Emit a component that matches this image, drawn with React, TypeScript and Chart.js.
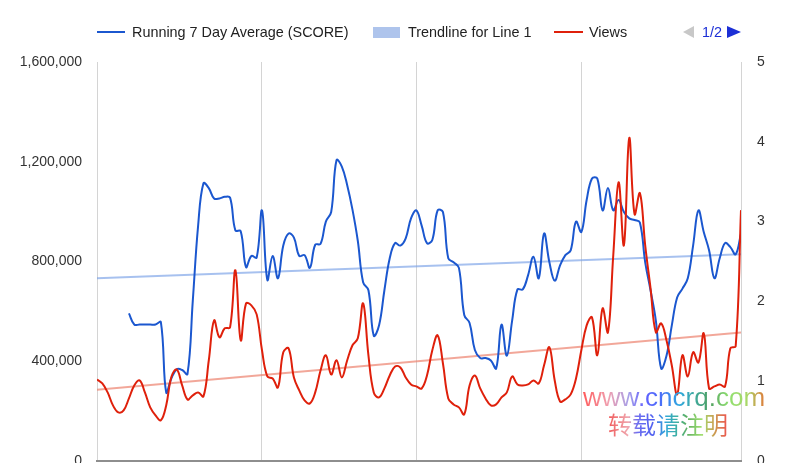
import { useEffect, useRef } from 'react';
import { Chart, registerables } from 'chart.js';

Chart.register(...registerables);

// Day index (0 = first day of the period); gridlines fall on month starts
const monthStartDays = [0, 31, 60, 91, 121];

// Views (left axis), one value per day starting at day 0
const viewsValues = [
  327000, 311000, 275000, 223000, 195000, 203000, 251000, 303000, 323000, 275000,
  215000, 183000, 163000, 223000, 339000, 367000, 303000, 247000, 263000, 275000,
  259000, 403000, 564000, 496000, 532000, 536000, 765000, 484000, 632000, 624000,
  588000, 444000, 339000, 331000, 295000, 436000, 452000, 335000, 283000, 243000,
  231000, 275000, 363000, 424000, 347000, 404000, 335000, 403000, 464000, 492000,
  632000, 424000, 275000, 255000, 291000, 343000, 379000, 375000, 335000, 307000,
  299000, 291000, 343000, 444000, 504000, 391000, 251000, 227000, 215000, 187000,
  303000, 343000, 291000, 251000, 223000, 227000, 255000, 275000, 339000, 307000,
  303000, 307000, 323000, 311000, 384000, 456000, 323000, 239000, 247000, 267000,
  331000, 444000, 544000, 576000, 424000, 612000, 516000, 825000, 1118000, 865000,
  1295000, 990000, 1074000, 865000, 693000, 516000, 552000, 484000, 383000, 267000,
  424000, 339000, 436000, 395000, 512000, 291000, 299000, 307000, 299000, 452000,
  460000, 1006000,
];

// Running 7 day average of SCORE (right axis), starts on day 6
const scoreStartDay = 6;
const scoreValues = [
  1.85, 1.71, 1.71, 1.71, 1.71, 1.71, 1.74, 0.86, 1.04, 1.15,
  1.14, 1.09, 2.01, 2.95, 3.48, 3.42, 3.29, 3.29, 3.31, 3.30,
  2.89, 2.88, 2.43, 2.57, 2.55, 3.14, 2.27, 2.57, 2.29, 2.70,
  2.85, 2.80, 2.57, 2.58, 2.42, 2.71, 2.72, 3.00, 3.12, 3.77,
  3.69, 3.46, 3.15, 2.76, 2.24, 2.14, 1.57, 1.70, 2.14, 2.54,
  2.73, 2.70, 2.79, 3.04, 3.14, 2.95, 2.73, 2.77, 3.14, 3.12,
  2.54, 2.49, 2.42, 1.83, 1.73, 1.39, 1.29, 1.29, 1.26, 1.16,
  1.71, 1.32, 1.76, 2.15, 2.15, 2.33, 2.56, 2.29, 2.85, 2.49,
  2.26, 2.45, 2.58, 2.64, 3.00, 2.87, 3.27, 3.54, 3.54, 3.14,
  3.42, 3.14, 3.27, 3.12, 3.04, 3.02, 2.99, 2.49, 2.14, 1.76,
  1.16, 1.32, 1.70, 2.05, 2.16, 2.29, 2.70, 3.14, 2.87, 2.64,
  2.29, 2.54, 2.73, 2.68, 2.59, 2.85,
];

// Trendlines (end points)
const trendDays = [0, 121];
const scoreTrend = [2.29, 2.59];
const viewsTrend = [286000, 515000];

// Axis ticks
const leftTicks = [0, 400000, 800000, 1200000, 1600000];
const rightTicks = [0, 1, 2, 3, 4, 5];

const legendLabels = ['Running 7 Day Average (SCORE)', 'Trendline for Line 1', 'Views'];
const pageLabel = '1/2';
const watermarkUrl = 'www.cncrq.com';
const watermarkNote = '转载请注明';

const BLUE = '#1b57cf';
const RED = '#df200b';
const BLUE_TREND = 'rgba(120, 160, 230, 0.65)';
const RED_TREND = 'rgba(236, 130, 110, 0.7)';
const FONT = 'Arial, "Liberation Sans", Helvetica, sans-serif';

export default function App() {
  const canvasRef = useRef<HTMLCanvasElement | null>(null);

  useEffect(() => {
    const canvas = canvasRef.current;
    if (!canvas) return;
    const chart = new Chart(canvas, {
      type: 'line',
      data: {
        datasets: [
          {
            label: legendLabels[2],
            data: viewsValues.map((v, i) => ({ x: i, y: v })),
            borderColor: RED,
            borderWidth: 2,
            pointRadius: 0,
            tension: 0.4,
            yAxisID: 'y',
            order: 0,
          },
          {
            label: legendLabels[0],
            data: scoreValues.map((v, i) => ({ x: i + scoreStartDay, y: v })),
            borderColor: BLUE,
            borderWidth: 2,
            pointRadius: 0,
            tension: 0.4,
            yAxisID: 'y1',
            order: 1,
          },
          {
            label: legendLabels[1],
            data: trendDays.map((d, i) => ({ x: d, y: scoreTrend[i] })),
            borderColor: BLUE_TREND,
            borderWidth: 2,
            pointRadius: 0,
            yAxisID: 'y1',
            order: 2,
          },
          {
            label: 'Trendline for Line 2',
            data: trendDays.map((d, i) => ({ x: d, y: viewsTrend[i] })),
            borderColor: RED_TREND,
            borderWidth: 2,
            pointRadius: 0,
            yAxisID: 'y',
            order: 3,
          },
        ],
      },
      options: {
        animation: false,
        responsive: false,
        devicePixelRatio: 1,
        layout: { padding: { top: 62, left: 0, right: 0, bottom: 0 } },
        plugins: { legend: { display: false }, tooltip: { enabled: false } },
        scales: {
          x: {
            type: 'linear',
            min: monthStartDays[0],
            max: monthStartDays[monthStartDays.length - 1],
            afterBuildTicks: (s: any) => {
              s.ticks = monthStartDays.map((v) => ({ value: v }));
            },
            ticks: { display: false },
            grid: { color: '#d4d4d4', lineWidth: 1, drawTicks: false },
            border: { display: true, color: '#8e8e8e', width: 2 },
            afterFit: (s: any) => {
              s.height = 2;
              s.paddingLeft = 0;
              s.paddingRight = 0;
            },
          },
          y: {
            position: 'left',
            min: 0,
            max: 1600000,
            afterBuildTicks: (s: any) => {
              s.ticks = leftTicks.map((v) => ({ value: v }));
            },
            ticks: {
              callback: (v: any) => Number(v).toLocaleString('en-US'),
              font: { family: FONT, size: 14 },
              color: '#333333',
              padding: 15,
            },
            grid: { display: false, drawTicks: false },
            border: { display: false },
            afterFit: (s: any) => {
              s.width = 97;
              s.paddingTop = 0;
              s.paddingBottom = 0;
            },
          },
          y1: {
            position: 'right',
            min: 0,
            max: 5,
            afterBuildTicks: (s: any) => {
              s.ticks = rightTicks.map((v) => ({ value: v }));
            },
            ticks: {
              font: { family: FONT, size: 14 },
              color: '#333333',
              padding: 16,
            },
            grid: { display: false, drawTicks: false },
            border: { display: false },
            afterFit: (s: any) => {
              s.width = 59;
              s.paddingTop = 0;
              s.paddingBottom = 0;
            },
          },
        },
      },
    } as any);
    return () => chart.destroy();
  }, []);

  const textStyle: React.CSSProperties = {
    position: 'absolute',
    top: 24,
    fontFamily: FONT,
    fontSize: 14.4,
    lineHeight: '16px',
    color: '#222222',
    whiteSpace: 'nowrap',
  };

  return (
    <div
      style={{
        position: 'fixed',
        left: 0,
        top: 0,
        width: 800,
        height: 463,
        background: '#ffffff',
        overflow: 'hidden',
      }}
    >
      <canvas
        ref={canvasRef}
        width={800}
        height={463}
        style={{ position: 'absolute', left: 0, top: 0, width: 800, height: 463 }}
      />
      {/* Legend */}
      <div style={{ position: 'absolute', left: 97, top: 31, width: 28, height: 2, background: BLUE }} />
      <span style={{ ...textStyle, left: 132 }}>{legendLabels[0]}</span>
      <div style={{ position: 'absolute', left: 373, top: 27, width: 27, height: 11, background: '#aec4ec' }} />
      <span style={{ ...textStyle, left: 408 }}>{legendLabels[1]}</span>
      <div style={{ position: 'absolute', left: 554, top: 31, width: 29, height: 2, background: RED }} />
      <span style={{ ...textStyle, left: 589 }}>{legendLabels[2]}</span>
      <div
        style={{
          position: 'absolute',
          left: 683,
          top: 26,
          width: 0,
          height: 0,
          borderTop: '6px solid transparent',
          borderBottom: '6px solid transparent',
          borderRight: '11px solid #c8c8c8',
        }}
      />
      <span style={{ ...textStyle, left: 702, color: '#1c2fd6' }}>{pageLabel}</span>
      <div
        style={{
          position: 'absolute',
          left: 727,
          top: 26,
          width: 0,
          height: 0,
          borderTop: '6px solid transparent',
          borderBottom: '6px solid transparent',
          borderLeft: '14px solid #1c2fd6',
        }}
      />
      {/* Watermark */}
      <div
        style={{
          position: 'absolute',
          left: 583,
          top: 384,
          fontFamily: FONT,
          fontSize: 26,
          lineHeight: '26px',
          whiteSpace: 'nowrap',
          background:
            'linear-gradient(90deg, #ff5a5a 0%, #f0a0b0 14%, #a8a0e8 25%, #6060ff 34%, #4a70f8 43%, #30a8e0 53%, #40a898 62%, #50a060 70%, #90e070 80%, #a8d868 90%, #e07a3a 100%)',
          WebkitBackgroundClip: 'text',
          backgroundClip: 'text',
          color: 'transparent',
        }}
      >
        {watermarkUrl}
      </div>
      <div
        style={{
          position: 'absolute',
          left: 608,
          top: 411,
          fontFamily: '"Noto Sans CJK SC", sans-serif',
          fontSize: 24,
          lineHeight: '26px',
          whiteSpace: 'nowrap',
          background:
            'linear-gradient(90deg, #f05858 0%, #f0a8b0 17%, #7070f0 24%, #5060f0 38%, #30a8d8 48%, #40b0a0 58%, #60b060 66%, #a0e070 78%, #c8a050 88%, #f05050 100%)',
          WebkitBackgroundClip: 'text',
          backgroundClip: 'text',
          color: 'transparent',
        }}
      >
        {watermarkNote}
      </div>
    </div>
  );
}
